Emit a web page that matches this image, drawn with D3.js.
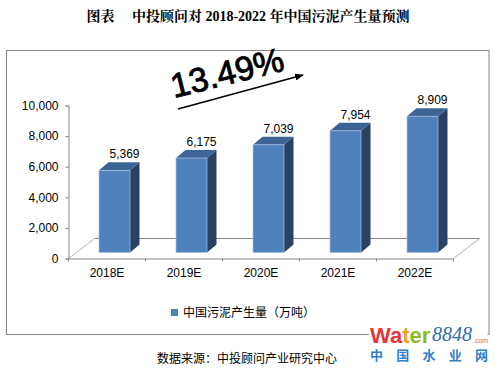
<!DOCTYPE html>
<html>
<head>
<meta charset="utf-8">
<script src="https://cdn.jsdelivr.net/npm/d3@7"></script>
<style>
  html, body { margin: 0; padding: 0; background: #fff; }
  svg { display: block; }
  text { font-family: "Liberation Sans", "Noto Sans CJK SC", sans-serif; fill: #000; }
</style>
</head>
<body>
<div id="chart"></div>
<script>
// Values
const categories = ["2018E", "2019E", "2020E", "2021E", "2022E"];
const values = [5369, 6175, 7039, 7954, 8909];
const yTicks = [0, 2000, 4000, 6000, 8000, 10000];
const seriesName = "中国污泥产生量（万吨）";
const titleText = "图表\u3000 中投顾问对 2018-2022 年中国污泥产生量预测";
const sourceText = "数据来源：中投顾问产业研究中心";
const growthText = "13.49%";
const logoLetters = [["W", "#e8343c"], ["a", "#e8343c"], ["t", "#f2a01e"], ["e", "#8dbb24"], ["r", "#8dbb24"]];

const width = 498;
const height = 372;

const svg = d3.select("#chart").append("svg")
  .attr("width", width)
  .attr("height", height);

// Outer frame
svg.append("rect")
  .attr("x", 6.5).attr("y", 50.5)
  .attr("width", 482.5).attr("height", 284)
  .attr("fill", "#fff")
  .attr("stroke", "#868686");

// Title
svg.append("text")
  .attr("x", 248).attr("y", 21)
  .attr("text-anchor", "middle")
  .style("font-family", '"Liberation Serif", "Noto Serif CJK SC", "Noto Sans CJK SC", serif')
  .style("font-size", "14px")
  .style("font-weight", "bold")
  .text(titleText);

// Scales
const xScale = d3.scaleBand().domain(categories).range([68.5, 453.5]);
const yScale = d3.scaleLinear().domain([0, 10000]).range([258.5, 105.5]);

// 3D offsets: floor depth and bar depth
const floorDx = 26, floorDy = -20;
const barW = 31, barDx = 9.5, barDy = -8;
const barBase = yScale(0) - 6; // bars sit back from the axis
const barX = (d) => xScale(d) + xScale.bandwidth() / 2 - barW / 2 + 7.5;
const barTop = (v) => barBase - (yScale(0) - yScale(v));

// Floor of the 3D plot
const floor = svg.append("g").attr("fill", "none");
floor.append("path")
  .attr("d", `M68.5,${yScale(0)} l${floorDx},${floorDy} M${453.5 + floorDx},${yScale(0) + floorDy} l${-floorDx},${-floorDy}`)
  .attr("stroke", "#a0a0a0")
  .attr("stroke-width", 0.8);
floor.append("path")
  .attr("d", `M${68.5 + floorDx},${yScale(0) + floorDy} H${453.5 + floorDx}`)
  .attr("stroke", "#868686");

// Axes
const xAxis = d3.axisBottom(xScale).tickSize(0).tickPadding(10);
const gx = svg.append("g")
  .attr("transform", `translate(0, ${yScale(0)})`)
  .call(xAxis);
gx.select(".domain").attr("stroke", "#868686");
gx.selectAll("text").style("font-size", "12px").attr("fill", "#000");
gx.selectAll(".sep")
  .data(xScale.domain().concat("end"))
  .join("line")
  .attr("class", "sep")
  .attr("x1", (d, i) => 68.5 + i * xScale.bandwidth())
  .attr("x2", (d, i) => 68.5 + i * xScale.bandwidth())
  .attr("y1", 0).attr("y2", 3)
  .attr("stroke", "#868686");

const yAxis = d3.axisLeft(yScale)
  .tickValues(yTicks)
  .tickSize(3)
  .tickPadding(7)
  .tickFormat(d3.format(","));
const gy = svg.append("g")
  .attr("transform", "translate(68.5, 0)")
  .call(yAxis);
gy.select(".domain").attr("stroke", "#868686");
gy.selectAll("line").attr("stroke", "#868686");
gy.selectAll("text").style("font-size", "12px").attr("fill", "#000");

// Bars
const bars = svg.append("g").attr("class", "bars")
  .selectAll("g")
  .data(categories.map((c, i) => ({ category: c, value: values[i] })))
  .join("g");

bars.append("path") // side
  .attr("d", (d) => {
    const x = barX(d.category) + barW, t = barTop(d.value);
    return `M${x},${t} l${barDx},${barDy} V${barBase + barDy} l${-barDx},${-barDy} Z`;
  })
  .attr("fill", "#2a4262");

bars.append("path") // top
  .attr("d", (d) => {
    const x = barX(d.category), t = barTop(d.value);
    return `M${x},${t} l${barDx},${barDy} h${barW} l${-barDx},${-barDy} Z`;
  })
  .attr("fill", "#3c6494");

bars.append("rect") // front
  .attr("x", (d) => barX(d.category))
  .attr("y", (d) => barTop(d.value))
  .attr("width", barW)
  .attr("height", (d) => barBase - barTop(d.value))
  .attr("fill", "#4f81bd")
  .attr("stroke", "#a9c0de")
  .attr("stroke-width", 0.7);

bars.append("text") // value labels
  .attr("x", (d) => barX(d.category) + barW / 2 + 10)
  .attr("y", (d) => barTop(d.value) + barDy - 4)
  .attr("text-anchor", "middle")
  .style("font-size", "12px")
  .text((d) => d3.format(",")(d.value));

// Growth arrow and rate
svg.append("defs").append("marker")
  .attr("id", "arrow")
  .attr("viewBox", "0 0 10 8")
  .attr("refX", 9).attr("refY", 4)
  .attr("markerWidth", 9).attr("markerHeight", 7)
  .attr("markerUnits", "userSpaceOnUse")
  .attr("orient", "auto")
  .append("path").attr("d", "M0,0 L10,4 L0,8 Z").attr("fill", "#000");

svg.append("line")
  .attr("x1", 178).attr("y1", 109)
  .attr("x2", 303).attr("y2", 75)
  .attr("stroke", "#000")
  .attr("stroke-width", 1.5)
  .attr("marker-end", "url(#arrow)");

svg.append("text")
  .attr("transform", "translate(174, 98) rotate(-14)")
  .style("font-size", "34px")
  .style("stroke", "#000")
  .style("stroke-width", 0.9)
  .text(growthText);

// Legend
svg.append("rect")
  .attr("x", 171).attr("y", 309)
  .attr("width", 7).attr("height", 7)
  .attr("fill", "#4f81bd");
svg.append("text")
  .attr("x", 183).attr("y", 317)
  .style("font-size", "12px")
  .text(seriesName);

// Source
svg.append("text")
  .attr("x", 157).attr("y", 363)
  .style("font-size", "12px")
  .text(sourceText);

// Watermark logo, sits on its own white patch over the frame
const logo = svg.append("g");
logo.append("rect")
  .attr("x", 369).attr("y", 325)
  .attr("width", 118.5).attr("height", 47)
  .attr("fill", "#fff");
const water = logo.append("text")
  .attr("x", 370).attr("y", 343)
  .style("font-size", "22px")
  .style("font-weight", "bold");
water.selectAll("tspan").data(logoLetters).join("tspan")
  .style("fill", (d) => d[1])
  .text((d) => d[0]);
logo.append("text")
  .attr("x", 432).attr("y", 341)
  .style("font-family", '"Liberation Serif", serif')
  .style("font-size", "20px")
  .style("font-style", "italic")
  .style("fill", "#2f6db0")
  .text("8848");
logo.append("text")
  .attr("x", 473).attr("y", 343)
  .style("font-size", "7px")
  .style("fill", "#e8645a")
  .text(".com");
logo.append("text")
  .attr("x", 370).attr("y", 360)
  .attr("textLength", 118)
  .style("font-size", "13px")
  .style("font-weight", "bold")
  .style("fill", "#2f7fc8")
  .text("中国水业网");
</script>
</body>
</html>
